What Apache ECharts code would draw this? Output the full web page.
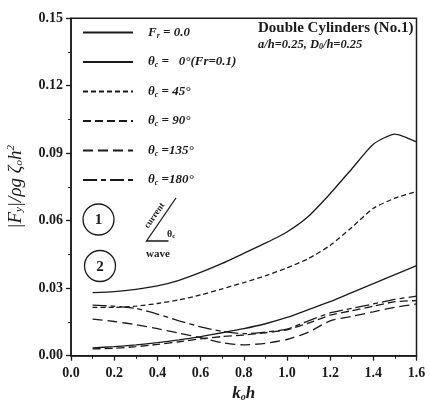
<!DOCTYPE html>
<html><head><meta charset="utf-8">
<script src="https://cdn.jsdelivr.net/npm/echarts@6/dist/echarts.min.js"></script>
<style>html,body{margin:0;padding:0;background:#fff}#c{width:430px;height:402px}</style>
</head><body><div id="c"></div>
<script>
const kh = [0.1,0.2,0.3,0.4,0.5,0.6,0.7,0.8,0.9,1.0,1.1,1.2,1.3,1.4,1.5,1.6];
const fr00   = [0.028,0.0285,0.0295,0.031,0.0335,0.037,0.041,0.0455,0.050,0.055,0.062,0.072,0.083,0.094,0.0985,0.095];
const th0    = [0.0035,0.004,0.0048,0.0058,0.007,0.0085,0.0102,0.012,0.0142,0.017,0.0205,0.024,0.028,0.032,0.036,0.040];
const th45   = [0.0215,0.0215,0.022,0.0232,0.0248,0.027,0.0297,0.0325,0.0355,0.039,0.0432,0.049,0.057,0.0655,0.070,0.073];
const th90   = [0.003,0.0033,0.004,0.005,0.0062,0.0075,0.0085,0.0092,0.0102,0.0115,0.0145,0.018,0.020,0.022,0.024,0.0245];
const th135  = [0.0163,0.0152,0.0138,0.012,0.010,0.008,0.0058,0.0048,0.0055,0.0072,0.0105,0.0155,0.0175,0.0195,0.0215,0.023];
const th180  = [0.0225,0.022,0.021,0.0185,0.0155,0.0128,0.0108,0.0098,0.0105,0.0118,0.0155,0.019,0.021,0.023,0.025,0.0265];
const yTicks = [0.00,0.03,0.06,0.09,0.12,0.15];
const xTicks = [0.0,0.2,0.4,0.6,0.8,1.0,1.2,1.4,1.6];

const names = ['Fr00','th0','th45','th90','th135','th180'];
const datas = [fr00, th0, th45, th90, th135, th180];
const dashes = ['solid','solid',[5,3],[8,4],[10,5],[14,4,5,4]];
const labels = {
  Fr00: '{g|}{i|F}{s|r}{i| = 0.0}',
  th0: '{g|}{i|θ}{s|c}{i| =   0°(Fr=0.1)}',
  th45: '{g|}{i|θ}{s|c}{i| = 45°}',
  th90: '{g|}{i|θ}{s|c}{i| = 90°}',
  th135: '{g|}{i|θ}{s|c}{i| =135°}',
  th180: '{g|}{i|θ}{s|c}{i| =180°}'
};
const serif = '"Liberation Serif","DejaVu Serif",serif';
const ink = '#1a1a1a';

const chart = echarts.init(document.getElementById('c'), null, {renderer:'canvas'});
const series = names.map((n,i)=>({
  name:n, type:'line', showSymbol:false, symbol:'none', smooth:0.2,
  data: kh.map((x,j)=>[x, datas[i][j]]),
  lineStyle:{color:ink, width:1.3, type:dashes[i]},
  itemStyle:{color:ink}
}));

chart.setOption({
  animation:false,
  grid:{left:71, right:13.5, top:18.2, bottom:46.3, show:true, borderColor:ink, borderWidth:1.5, backgroundColor:'transparent',
        containLabel:false, outerBoundsMode:'none'},
  legend:{
    show:true, orient:'vertical', left:77, top:21, itemWidth:50, itemHeight:10, itemGap:16,
    data:names.map(n=>({name:n})),
    itemStyle:{opacity:0},
    formatter: n => labels[n],
    textStyle:{ color:ink,
      rich:{ g:{width:10},
             i:{fontFamily:serif, fontStyle:'italic', fontWeight:'bold', fontSize:13, color:ink},
             s:{fontFamily:serif, fontStyle:'italic', fontWeight:'bold', fontSize:8, color:ink, padding:[6,0,0,0]} } }
  },
  xAxis:{
    type:'value', min:0, max:1.6, interval:0.2,
    axisLine:{show:true, lineStyle:{color:ink, width:1.5}},
    axisTick:{show:true, inside:false, length:5, lineStyle:{color:ink, width:1.3}},
    minorTick:{show:true, splitNumber:2, length:3, lineStyle:{color:ink, width:1}},
    splitLine:{show:false},
    axisLabel:{color:ink, fontFamily:serif, fontWeight:'bold', fontSize:14, margin:11,
      formatter: v => xTicks.find(t=>Math.abs(t-v)<1e-9).toFixed(1)},
    name:'{k|k}{s|o}{k|h}', nameLocation:'middle', nameGap:28,
    nameTextStyle:{ rich:{ k:{fontFamily:serif, fontStyle:'italic', fontWeight:'bold', fontSize:17, color:ink},
                           s:{fontFamily:serif, fontStyle:'italic', fontWeight:'bold', fontSize:10, color:ink, padding:[7,0,0,0]} } }
  },
  yAxis:{
    type:'value', min:0, max:0.15, interval:0.03,
    axisLine:{show:true, lineStyle:{color:ink, width:1.5}},
    axisTick:{show:true, inside:false, length:5, lineStyle:{color:ink, width:1.3}},
    minorTick:{show:true, splitNumber:2, length:3, lineStyle:{color:ink, width:1}},
    splitLine:{show:false},
    axisLabel:{color:ink, fontFamily:serif, fontWeight:'bold', fontSize:14, margin:8,
      formatter: v => yTicks.find(t=>Math.abs(t-v)<1e-9).toFixed(2)},
    name:'{t||F}{s|y}{t||/ρg ζ}{s|o}{t|h}{p|2}', nameLocation:'middle', nameGap:46,
    nameTextStyle:{ rich:{ t:{fontFamily:serif, fontStyle:'italic', fontSize:19, color:ink},
                           s:{fontFamily:serif, fontStyle:'italic', fontSize:11, color:ink, padding:[8,0,0,0]},
                           p:{fontFamily:serif, fontStyle:'italic', fontSize:11, color:ink, padding:[0,0,8,0]} } }
  },
  graphic:[
    {type:'text', left:258, top:21, style:{text:'Double Cylinders (No.1)', font:'bold 15px '+serif, fill:ink}},
    {type:'text', left:258, top:38, style:{
      rich:{i:{font:'italic bold 12.5px '+serif, fill:ink}, s:{font:'italic bold 8px '+serif, fill:ink, padding:[5,0,0,0]}},
      text:'{i|a/h=0.25, D}{s|0}{i|/h=0.25}'}},
    {type:'circle', shape:{cx:98.5, cy:219.5, r:15.5}, style:{fill:'none', stroke:ink, lineWidth:1.3}},
    {type:'text', x:98.5, y:220, style:{text:'1', font:'bold 15px '+serif, fill:ink, align:'center', verticalAlign:'middle'}},
    {type:'circle', shape:{cx:100, cy:266, r:15.5}, style:{fill:'none', stroke:ink, lineWidth:1.3}},
    {type:'text', x:100, y:267, style:{text:'2', font:'bold 15px '+serif, fill:ink, align:'center', verticalAlign:'middle'}},
    {type:'polyline', shape:{points:[[176,198],[146.5,241],[168.5,241]]}, style:{fill:'none', stroke:ink, lineWidth:1.3}},
    {type:'text', x:150, y:230, rotation:55*Math.PI/180, style:{text:'current', font:'bold 9px '+serif, fill:ink, align:'left', verticalAlign:'bottom'}},
    {type:'text', x:167, y:229, style:{rich:{i:{font:'bold 10px '+serif, fill:ink}, s:{font:'bold 6.5px '+serif, fill:ink, padding:[4,0,0,0]}}, text:'{i|θ}{s|c}'}},
    {type:'text', x:146, y:249, style:{text:'wave', font:'bold 11px '+serif, fill:ink}}
  ],
  series: series
});
</script></body></html>
